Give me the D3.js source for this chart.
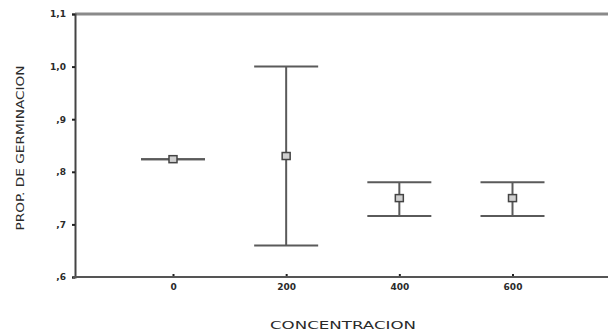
<!DOCTYPE html>
<html><head><meta charset="utf-8">
<script src="https://cdn.jsdelivr.net/npm/d3@7"></script>
<style>body{margin:0;background:#fff}svg{display:block}</style>
</head><body>
<svg id="c" width="608" height="335"></svg>
<script>
const categories = ["0", "200", "400", "600"];
const means = [0.824, 0.830, 0.750, 0.750];
const lower = [0.824, 0.660, 0.716, 0.716];
const upper = [0.824, 1.000, 0.780, 0.780];
const yTicks = [0.6, 0.7, 0.8, 0.9, 1.0, 1.1];
const yTickLabels = [",6", ",7", ",8", ",9", "1,0", "1,1"];

(function () {
const svg = d3.select("#c");
const mLeft = 75, mTop = 14, mBottom = 277, mRight = 640;
const y = d3.scaleLinear().domain([0.6, 1.1]).range([mBottom, mTop]);
const x = d3.scalePoint().domain(categories).range([173, 512.5]);
const font = "DejaVu Sans, Liberation Sans, Arial, sans-serif";
const lineCol = "#5a5a5a";
const txtCol = "#2a2a2a";

// top frame
svg.append("line").attr("x1", mLeft).attr("x2", mRight).attr("y1", mTop).attr("y2", mTop)
  .attr("stroke", "#8a8a8a").attr("stroke-width", 3);

// y axis
const ya = svg.append("g").attr("transform", `translate(${mLeft},0)`)
  .call(d3.axisLeft(y).tickValues(yTicks).tickFormat((d, i) => yTickLabels[i]).tickSize(3).tickPadding(6));
ya.select(".domain").attr("stroke", "#444").attr("stroke-width", 2);
ya.selectAll(".tick line").attr("stroke", "#222").attr("stroke-width", 2);
ya.selectAll("text").attr("font-family", font).attr("font-size", 9).attr("font-weight", "bold").attr("fill", txtCol);

// x axis
const xa = svg.append("g").attr("transform", `translate(0,${mBottom})`)
  .call(d3.axisBottom(x).tickSize(-3).tickPadding(7));
xa.select(".domain").remove();
svg.append("line").attr("x1", mLeft - 2).attr("x2", mRight).attr("y1", mBottom).attr("y2", mBottom)
  .attr("stroke", "#555").attr("stroke-width", 2);
xa.selectAll(".tick line").attr("stroke", "#222").attr("stroke-width", 2);
xa.selectAll("text").attr("font-family", font).attr("font-size", 9).attr("font-weight", "bold").attr("fill", txtCol);

// error bars
const g = svg.append("g");
const capW = 32;
categories.forEach((c, i) => {
  const cx = x(c);
  g.append("line").attr("x1", cx).attr("x2", cx).attr("y1", y(lower[i])).attr("y2", y(upper[i]))
    .attr("stroke", lineCol).attr("stroke-width", 2);
  g.append("line").attr("x1", cx - capW).attr("x2", cx + capW).attr("y1", y(upper[i])).attr("y2", y(upper[i]))
    .attr("stroke", lineCol).attr("stroke-width", 2);
  g.append("line").attr("x1", cx - capW).attr("x2", cx + capW).attr("y1", y(lower[i])).attr("y2", y(lower[i]))
    .attr("stroke", lineCol).attr("stroke-width", 2);
  g.append("rect").attr("x", cx - 4).attr("y", y(means[i]) - 3.5).attr("width", 8).attr("height", 7)
    .attr("fill", "#d0d0d0").attr("stroke", "#444").attr("stroke-width", 1.5);
});

// axis titles
svg.append("text").attr("x", 343).attr("y", 329).attr("text-anchor", "middle")
  .attr("font-family", font).attr("font-size", 11).attr("fill", txtCol)
  .attr("textLength", 146).attr("lengthAdjust", "spacingAndGlyphs").text("CONCENTRACION");
svg.append("text").attr("transform", "translate(24,148) rotate(-90)").attr("text-anchor", "middle")
  .attr("font-family", font).attr("font-size", 11).attr("fill", txtCol)
  .attr("textLength", 165).attr("lengthAdjust", "spacingAndGlyphs").text("PROP. DE GERMINACION");
})();
</script>
</body></html>
